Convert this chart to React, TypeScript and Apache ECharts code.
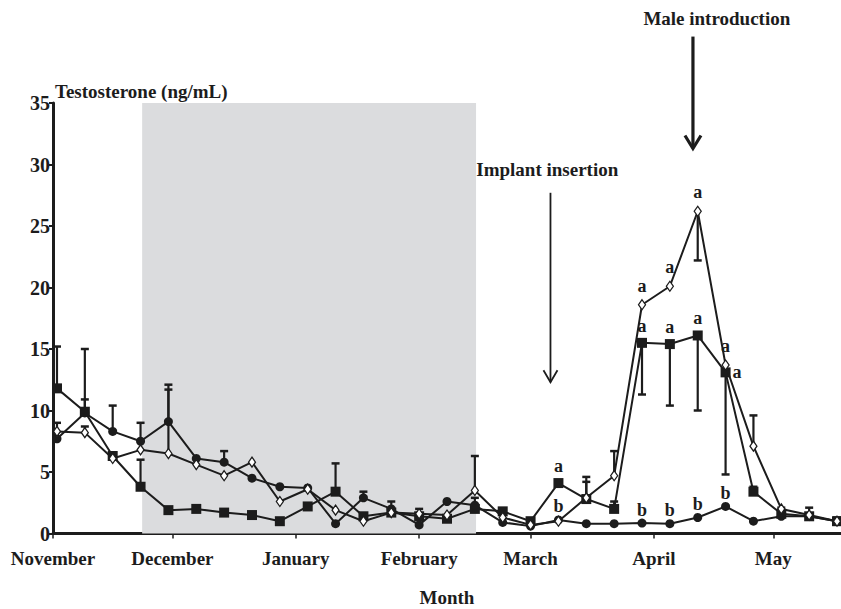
import React, { useEffect, useRef } from "react";
import * as echarts from "echarts";

// ---- data ----
const monthNames = ["November", "December", "January", "February", "March", "April", "May"];
const monthStartDays = [0, 30, 61, 92, 120, 151, 181]; // days since 1 November

const sampleDays = [1, 8, 15, 22, 29, 36, 43, 50, 57, 64, 71, 78, 85, 92, 99, 106, 113, 120, 127, 134, 141, 148, 155, 162, 169, 176, 183, 190, 197];

const squareValues = [11.8, 9.9, 6.3, 3.8, 1.9, 2.0, 1.7, 1.5, 1.0, 2.2, 3.4, 1.4, 1.7, 1.4, 1.2, 2.0, 1.8, 1.0, 4.1, 2.8, 2.0, 15.5, 15.4, 16.1, 13.1, 3.4, 1.6, 1.4, 1.0];
const circleValues = [7.7, 9.8, 8.3, 7.5, 9.1, 6.1, 5.8, 4.5, 3.8, 3.7, 0.8, 2.9, 2.0, 0.7, 2.6, 2.3, 0.9, 0.6, 1.1, 0.8, 0.8, 0.85, 0.8, 1.3, 2.2, 1.0, 1.4, 1.4, 1.0];
const diamondValues = [8.3, 8.2, 6.1, 6.8, 6.5, 5.6, 4.7, 5.8, 2.6, 3.6, 1.9, 1.0, 1.7, 1.6, 1.5, 3.5, 1.3, 0.7, 1.0, 2.9, 4.7, 18.6, 20.1, 26.2, 13.7, 7.1, 2.0, 1.5, 1.0];

const N = null;
// end value of each error bar (null = none)
const squareErrEnds = [15.2, 15.0, N, 6.0, N, N, N, N, N, N, 5.7, N, N, 2.0, N, N, N, N, N, 4.6, 2.6, 11.3, 10.4, 10.0, 4.8, 3.8, 2.1, 2.1, 1.3];
const circleErrEnds = [N, 10.9, 10.4, 9.0, 12.1, N, 6.7, N, N, N, N, 3.4, 2.6, N, N, 2.9, N, N, N, N, N, N, N, N, N, N, N, N, N];
const diamondErrEnds = [9.0, 8.7, N, N, 11.7, N, N, N, N, N, N, N, N, N, N, 6.3, N, N, N, 4.2, 6.7, N, N, 22.2, N, 9.6, N, N, N];

const squareLetters = ["", "", "", "", "", "", "", "", "", "", "", "", "", "", "", "", "", "", "a", "", "", "a", "a", "a", "a", "", "", "", ""];
const circleLetters = ["", "", "", "", "", "", "", "", "", "", "", "", "", "", "", "", "", "", "b", "", "", "b", "b", "b", "b", "", "", "", ""];
const diamondLetters = ["", "", "", "", "", "", "", "", "", "", "", "", "", "", "", "", "", "", "", "", "", "a", "a", "a", "a", "", "", "", ""];

const shadedPeriod = [22.4, 106.3];
const implantDay = 125;
const maleDay = 160.8;

const FONT = "'Liberation Serif', 'Times New Roman', serif";
const INK = "#1c1c1c";

function buildData(vals: number[], letters: string[], sideOverride: Record<number, string>, dist: number) {
  return vals.map((v, i) => {
    const item: any = { value: [sampleDays[i], v] };
    const l = letters[i];
    if (l) {
      const pos = sideOverride[i] || "top";
      item.label = {
        show: true,
        formatter: l,
        position: pos,
        distance: pos === "top" ? dist : 2,
        fontFamily: FONT,
        fontWeight: "bold",
        fontSize: 18,
        color: INK,
      };
    }
    return item;
  });
}

export default function App() {
  const ref = useRef<HTMLDivElement>(null);
  useEffect(() => {
    if (!ref.current) return;
    const chart = echarts.init(ref.current, undefined, { renderer: "svg" });

    const errItems: number[][] = [];
    const groups: [number[], (number | null)[]][] = [
      [squareValues, squareErrEnds],
      [circleValues, circleErrEnds],
      [diamondValues, diamondErrEnds],
    ];
    groups.forEach(([vals, ends]) => {
      ends.forEach((e, i) => {
        if (e !== null && e !== undefined) errItems.push([sampleDays[i], vals[i], e]);
      });
    });

    const lineBase = {
      type: "line",
      lineStyle: { color: INK, width: 2 },
      itemStyle: { color: INK },
      label: { show: false },
      emphasis: { disabled: true },
      z: 3,
    };

    chart.setOption({
      animation: false,
      grid: { left: 53, right: 0, top: 103, bottom: 75.5, containLabel: false, outerBoundsMode: "none" },
      xAxis: {
        type: "value",
        min: 0,
        max: 198,
        splitLine: { show: false },
        axisLine: { show: true, lineStyle: { color: INK, width: 3 } },
        axisTick: { show: true, customValues: monthStartDays, length: 5, lineStyle: { color: INK, width: 1.5 } },
        axisLabel: {
          customValues: monthStartDays,
          formatter: (v: number) => {
            const idx = monthStartDays.indexOf(Math.round(v));
            return idx >= 0 ? monthNames[idx] : "";
          },
          fontFamily: FONT,
          fontWeight: "bold",
          fontSize: 19,
          color: INK,
          margin: 15,
        },
        name: "Month",
        nameLocation: "middle",
        nameGap: 54,
        nameTextStyle: { fontFamily: FONT, fontWeight: "bold", fontSize: 19, color: INK, lineHeight: 19 },
      },
      yAxis: {
        type: "value",
        min: 0,
        max: 35,
        interval: 5,
        splitLine: { show: false },
        axisLine: { show: true, lineStyle: { color: INK, width: 3 } },
        axisTick: { show: true, length: 4, lineStyle: { color: INK, width: 2 } },
        axisLabel: { fontFamily: FONT, fontWeight: "bold", fontSize: 20, color: INK, margin: 3 },
      },
      series: [
        {
          type: "line",
          data: [],
          z: 0,
          markArea: {
            silent: true,
            itemStyle: { color: "#dbdcde" },
            data: [[{ xAxis: shadedPeriod[0] }, { xAxis: shadedPeriod[1] }]],
          },
        },
        {
          type: "custom",
          z: 2,
          renderItem: (params: any, api: any) => {
            const x = api.value(0);
            const a = api.value(1);
            const b = api.value(2);
            const p1 = api.coord([x, a]);
            const p2 = api.coord([x, b]);
            const w = 4;
            return {
              type: "group",
              children: [
                { type: "line", shape: { x1: p1[0], y1: p1[1], x2: p2[0], y2: p2[1] }, style: { stroke: INK, lineWidth: 2.2 } },
                { type: "line", shape: { x1: p2[0] - w, y1: p2[1], x2: p2[0] + w, y2: p2[1] }, style: { stroke: INK, lineWidth: 2.5 } },
              ],
            };
          },
          encode: { x: 0, y: [1, 2] },
          data: errItems,
          silent: true,
        },
        {
          ...lineBase,
          name: "squares",
          symbol: "rect",
          symbolSize: 10,
          data: buildData(squareValues, squareLetters, { 24: "right" }, 3),
        },
        {
          ...lineBase,
          name: "circles",
          symbol: "circle",
          symbolSize: 9,
          data: buildData(circleValues, circleLetters, {}, 0),
        },
        {
          ...lineBase,
          name: "diamonds",
          symbol: "diamond",
          symbolSize: [7, 10],
          itemStyle: { color: "#ffffff", borderColor: INK, borderWidth: 1.3 },
          data: buildData(diamondValues, diamondLetters, {}, 4),
          z: 4,
        },
      ],
    });

    const px = (d: number, v: number) => chart.convertToPixel({ gridIndex: 0 } as any, [d, v]) as number[];
    const imTop = px(implantDay, 27.7);
    const imBot = px(implantDay, 12.3);
    const maTop = px(maleDay, 40.4);
    const maBot = px(maleDay, 31.3);
    const imText = px(implantDay - 0.8, 29.6);
    const maText = px(maleDay + 6, 41.9);

    chart.setOption({
      graphic: [
        {
          type: "text",
          left: 55,
          top: 82,
          style: { text: "Testosterone (ng/mL)", fontFamily: FONT, fontWeight: "bold", fontSize: 19, fill: INK },
        },
        {
          type: "text",
          x: imText[0],
          y: imText[1],
          style: { text: "Implant insertion", fontFamily: FONT, fontWeight: "bold", fontSize: 19, fill: INK, align: "center", verticalAlign: "middle" },
        },
        {
          type: "line",
          shape: { x1: imTop[0], y1: imTop[1], x2: imBot[0], y2: imBot[1] },
          style: { stroke: INK, lineWidth: 1.8 },
        },
        {
          type: "polyline",
          shape: { points: [[imBot[0] - 7, imBot[1] - 12], [imBot[0], imBot[1]], [imBot[0] + 7, imBot[1] - 12]] },
          style: { stroke: INK, lineWidth: 1.8, fill: "none" },
        },
        {
          type: "text",
          x: maText[0],
          y: maText[1],
          style: { text: "Male introduction", fontFamily: FONT, fontWeight: "bold", fontSize: 19, fill: INK, align: "center", verticalAlign: "middle" },
        },
        {
          type: "line",
          shape: { x1: maTop[0], y1: maTop[1], x2: maBot[0], y2: maBot[1] - 2 },
          style: { stroke: INK, lineWidth: 3.2 },
        },
        {
          type: "polyline",
          shape: { points: [[maBot[0] - 8, maBot[1] - 13], [maBot[0], maBot[1]], [maBot[0] + 8, maBot[1] - 13]] },
          style: { stroke: INK, lineWidth: 3.2, fill: "none" },
        },
      ],
    });

    return () => chart.dispose();
  }, []);

  return <div ref={ref} style={{ position: "fixed", left: 0, top: 0, width: 841, height: 609, background: "#ffffff" }} />;
}
